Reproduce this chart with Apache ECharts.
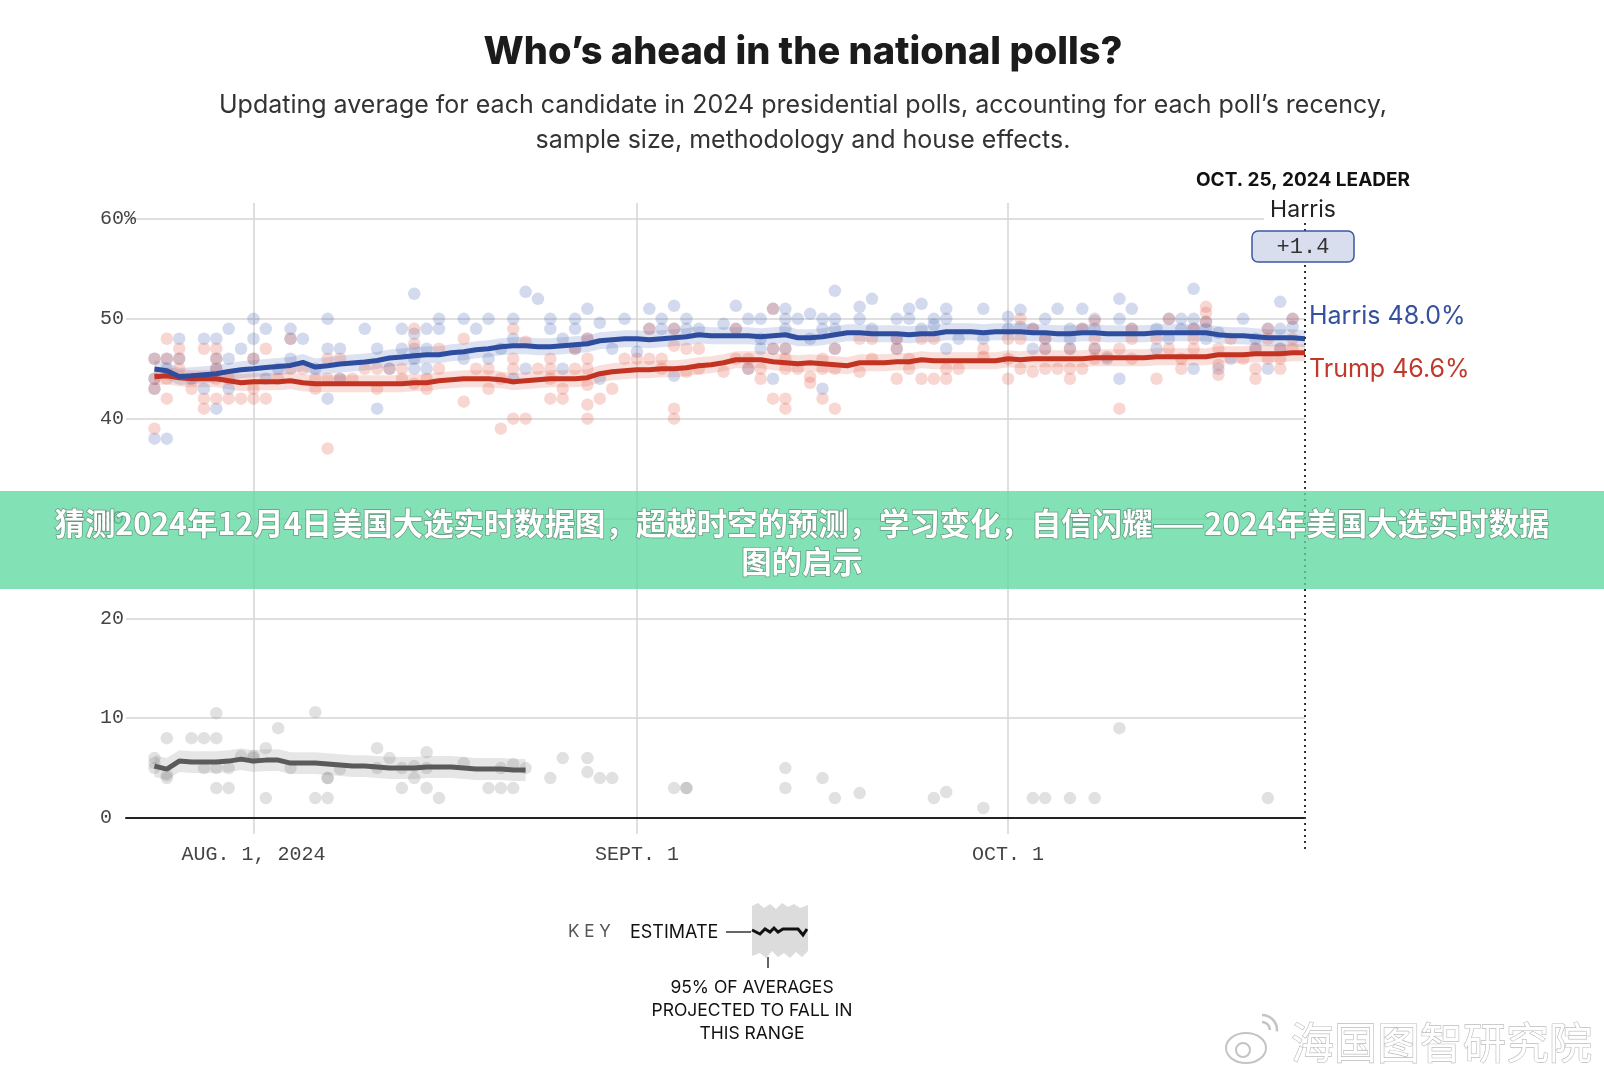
<!DOCTYPE html>
<html><head><meta charset="utf-8">
<script src="https://cdn.jsdelivr.net/npm/echarts@6/dist/echarts.min.js"></script>
<style>html,body{margin:0;padding:0;background:#fff}#c{width:1604px;height:1080px}</style>
</head><body><div id="c"></div>
<script>
// ---------- DATA ----------
const startDate = '07-24';
const leaderDate = '10-25';
const xTickDates = ['08-01', '09-01', '10-01'];
const xTickLabels = ['AUG. 1, 2024', 'SEPT. 1', 'OCT. 1'];
const yTicks = [0, 10, 20, 30, 40, 50, 60];
const yTickLabels = ['0', '10', '20', '30', '40', '50', '60%'];

// daily averages, Jul 24 .. Oct 25
const harrisAvg = [44.97,44.8,44.23,44.3,44.4,44.5,44.73,44.9,45.0,45.13,45.23,45.33,45.63,45.17,45.3,45.47,45.57,45.67,45.83,46.07,46.17,46.3,46.4,
  46.4,46.6,46.7,46.9,47.0,47.2,47.3,47.3,47.2,47.2,47.3,47.4,47.5,47.8,47.9,48.0,48.0,47.9,48.0,48.1,48.2,48.4,48.3,48.3,
  48.3,48.3,48.2,48.3,48.4,48.1,48.1,48.2,48.4,48.6,48.6,48.5,48.5,48.5,48.4,48.5,48.5,48.7,48.7,48.7,48.6,48.7,
  48.7,48.7,48.6,48.6,48.5,48.5,48.6,48.6,48.5,48.5,48.5,48.5,48.6,48.6,48.6,48.6,48.6,48.4,48.3,48.3,48.2,48.1,48.1,48.1,48.0];
const trumpAvg = [44.2,44.3,44.1,44.0,44.0,44.0,43.8,43.6,43.7,43.7,43.7,43.8,43.6,43.5,43.5,43.5,43.5,43.5,43.5,43.5,43.5,43.6,43.6,
  43.8,43.9,44.0,44.0,44.0,43.9,43.7,43.8,43.9,44.0,44.0,44.0,44.1,44.5,44.7,44.8,44.9,44.9,45.0,45.0,45.1,45.3,45.4,45.6,
  45.9,45.9,45.9,45.7,45.6,45.5,45.6,45.5,45.4,45.3,45.6,45.6,45.6,45.7,45.7,45.9,45.8,45.8,45.8,45.8,45.8,45.8,
  46.0,45.9,46.0,46.0,46.0,46.0,46.0,46.1,46.1,46.1,46.1,46.1,46.2,46.2,46.2,46.2,46.2,46.4,46.4,46.4,46.5,46.5,46.5,46.6,46.6];
const otherAvg = [5.2,4.9,5.7,5.6,5.6,5.6,5.7,5.9,5.7,5.8,5.8,5.5,5.5,5.5,5.4,5.3,5.2,5.2,5.1,5.0,5.0,5.0,5.1,5.1,5.1,5.0,4.9,4.9,4.9,4.8,4.8];

// half width of the 95% band
const harrisBand = 0.85;
const trumpBand = 0.85;
const otherBand = 1.1;

// individual polls: [date, values...]
const harrisPolls = [['07-24',46,44,43,38],['07-25',46,45,38],['07-26',48,46],['07-27',44],['07-28',48,43],['07-29',48,46,45,41],['07-30',49,46,43],['07-31',47],['08-01',50,48,46],['08-02',49,44],['08-03',45],['08-04',49,48,46],['08-05',48],['08-06',45],['08-07',50,47,42],['08-08',47,44],['08-10',49],['08-11',47,41],['08-12',45],['08-13',49,47],['08-14',52.5,48.5,47,46,45],['08-15',49,47,45],['08-16',50,49],['08-18',50,46],['08-19',49],['08-20',50,46],['08-21',47],['08-22',50,48,44],['08-23',52.7,45],['08-24',52],['08-25',50,49],['08-26',48,45],['08-27',50,49,47],['08-28',51,48],['08-29',49.6,44],['08-30',47],['08-31',50],['09-01',46.7],['09-02',51,49],['09-03',50,49],['09-04',51.3,49,44.3],['09-05',50,49],['09-06',49],['09-08',49.5],['09-09',51.3,49],['09-10',50,45],['09-11',50,48,47],['09-12',51,47,44],['09-13',51,50,49,47],['09-14',50],['09-15',50.5,48],['09-16',50,49,43],['09-17',52.8,50,49,47],['09-19',51.2,50],['09-20',52,49],['09-22',50,48,47],['09-23',51,50],['09-24',51.5,49],['09-25',50,49.4],['09-26',51,50,47],['09-27',48],['09-29',51,48],['10-01',50.2,49],['10-02',50.9,49.2],['10-03',49,47],['10-04',50,48,47],['10-05',51],['10-06',49,48,47],['10-07',51,49],['10-08',50,49,47],['10-09',46],['10-10',52,50,44],['10-11',51,49],['10-13',49,47],['10-14',50,48],['10-15',50,49],['10-16',53,50,49,45],['10-17',49.7,49,48],['10-18',48.6,45],['10-19',46],['10-20',50],['10-21',48,47],['10-22',49,45],['10-23',51.7,49,47],['10-24',50,49.2]];
const trumpPolls = [['07-24',46,44,43,39],['07-25',48,46,44,42],['07-26',47,46,45],['07-27',43],['07-28',47,42,41],['07-29',47,46,45,44,42],['07-30',44,42],['07-31',42],['08-01',46,43,42],['08-02',47,42],['08-03',44],['08-04',48,45],['08-05',45],['08-06',44,43],['08-07',46,44,37],['08-08',46,44],['08-09',44],['08-10',45],['08-11',45,43],['08-12',45],['08-13',45,44],['08-14',49,47.5,43.5],['08-15',44,43],['08-16',47,45],['08-18',48,41.7],['08-19',45],['08-20',45,43],['08-21',44,39],['08-22',49,46,45,40],['08-23',47.7,40],['08-24',45],['08-25',46,45,44,42],['08-26',43,42],['08-27',47,45],['08-28',48,46,45,43.4,41.4,40],['08-29',42],['08-30',43],['08-31',46],['09-01',46],['09-02',49,46],['09-03',46,45],['09-04',49,47.3,41,40],['09-05',47,44.7],['09-06',47,45],['09-08',44.7],['09-09',49,46],['09-10',46,45],['09-11',45,44],['09-12',51,47,42],['09-13',47,46,45,42,41],['09-14',45],['09-15',44.2,43.6],['09-16',46,45,42],['09-17',47,45,41],['09-19',48,44.7],['09-20',48,46],['09-22',48,47,44],['09-23',46,45],['09-24',48,44],['09-25',48,44],['09-26',45,44],['09-27',45],['09-29',47,46.2],['10-01',48,46,44],['10-02',50,48,45],['10-03',49,44.7],['10-04',48,47,45],['10-05',45],['10-06',47,45,44],['10-07',49,45],['10-08',49.8,48,47,46],['10-09',46.2],['10-10',47,41],['10-11',49,48,46],['10-13',48,44],['10-14',50,47],['10-15',46,45],['10-16',49,48,47],['10-17',51.2,50.6,49.7],['10-18',47,45.4,44.4],['10-19',48],['10-20',46],['10-21',47,45,44],['10-22',49,48,46],['10-23',47,46,45],['10-24',50,48,47]];
const otherPolls = [['07-24',6,5.5,5],['07-25',8,4.3,4],['07-27',8],['07-28',8,5],['07-29',10.5,8,5,3],['07-30',5,3],['07-31',6.2],['08-01',6.2,6],['08-02',7,2],['08-03',9],['08-04',5],['08-06',10.6,2],['08-07',4,4,2],['08-08',4.9],['08-11',7,5],['08-12',6],['08-13',5,3],['08-14',5.2,4],['08-15',6.6,5,3],['08-16',2],['08-18',5.5],['08-20',3],['08-21',5,3],['08-22',5.4,3],['08-23',5],['08-25',4],['08-26',6],['08-28',6,4.6],['08-29',4],['08-30',4],['09-04',3],['09-05',3,3],['09-13',5,3],['09-16',4],['09-17',2],['09-19',2.5],['09-25',2],['09-26',2.6],['09-29',1],['10-03',2],['10-04',2],['10-06',2],['10-08',2],['10-10',9],['10-22',2]];

// ---------- helpers ----------
const dayOf = s => (Date.parse('2024-' + s + 'T00:00:00Z') - Date.parse('2024-08-01T00:00:00Z')) / 864e5;
const d0 = dayOf(startDate);
const xTickDays = xTickDates.map(dayOf);
const flat = polls => polls.flatMap(([d, ...vals]) => vals.map(v => [dayOf(d), v]));
const line = avg => avg.map((v, i) => [d0 + i, v]);
const leaderDay = dayOf(leaderDate);
const lastH = harrisAvg[harrisAvg.length - 1], lastT = trumpAvg[trumpAvg.length - 1];

const TICK_FONT = '"Liberation Mono", "DejaVu Sans Mono", monospace';
const SANS = 'Inter, "Noto Sans", sans-serif';

function band(avg, m, color) {
  const up = avg.map((v, i) => [d0 + i, v + m]);
  const lo = avg.map((v, i) => [d0 + i, v - m]).reverse();
  return {
    type: 'custom', silent: true, z: 1, data: [[d0, avg[0]]],
    renderItem: (params, api) => ({
      type: 'polygon',
      shape: { points: up.concat(lo).map(p => api.coord(p)) },
      style: { fill: color }
    })
  };
}
function dots(data, color) {
  return { type: 'scatter', data: data, symbolSize: 12.5, silent: true, z: 2,
    itemStyle: { color: color, borderWidth: 0 } };
}

const chart = echarts.init(document.getElementById('c'), null, { renderer: 'canvas' });
const option = {
  animation: false,
  backgroundColor: '#fff',
  grid: { left: 126, right: 299, top: 203, bottom: 246 },
  xAxis: {
    type: 'value', min: -10.3, max: 85,
    axisLine: { onZero: true, lineStyle: { color: '#222', width: 2 } },
    axisTick: { show: false, customValues: xTickDays },
    splitLine: { show: true, lineStyle: { color: '#d4d4d4', width: 1.5 } },
    axisLabel: { customValues: xTickDays, margin: 11, color: '#444', fontFamily: TICK_FONT, fontSize: 20,
      formatter: v => xTickLabels[xTickDays.indexOf(v)] || '' }
  },
  yAxis: {
    type: 'value', min: -1.6, max: 61.6,
    axisLine: { show: false },
    axisTick: { show: false, customValues: yTicks },
    splitLine: { show: true, lineStyle: { color: '#d4d4d4', width: 1.5 } },
    axisLabel: { customValues: yTicks, align: 'left', margin: 26, color: '#444', fontFamily: TICK_FONT, fontSize: 20,
      formatter: v => yTickLabels[yTicks.indexOf(v)] || '' }
  },
  series: [
    band(harrisAvg, harrisBand, 'rgba(70,100,180,0.19)'),
    band(trumpAvg, trumpBand, 'rgba(225,95,75,0.2)'),
    band(otherAvg, otherBand, 'rgba(150,150,150,0.24)'),
    dots(flat(otherPolls), 'rgba(130,130,130,0.30)'),
    dots(flat(harrisPolls), 'rgba(60,90,175,0.28)'),
    dots(flat(trumpPolls), 'rgba(225,90,70,0.30)'),
    { type: 'line', data: line(otherAvg), symbol: 'none', silent: true, z: 3,
      lineStyle: { color: '#5a5a5a', width: 5 } },
    { type: 'line', data: line(trumpAvg), symbol: 'none', silent: true, z: 4,
      lineStyle: { color: '#c23321', width: 5 },
      endLabel: { show: true, distance: 4, offset: [0, 17], color: '#c0392b', fontFamily: SANS, fontSize: 25,
        formatter: p => 'Trump ' + p.value[1].toFixed(1) + '%' } },
    { type: 'line', data: line(harrisAvg), symbol: 'none', silent: true, z: 5,
      lineStyle: { color: '#2e4d9f', width: 5 },
      endLabel: { show: true, distance: 4, offset: [0, -22], color: '#34509e', fontFamily: SANS, fontSize: 25,
        formatter: p => 'Harris ' + p.value[1].toFixed(1) + '%' } },
    { type: 'line', data: [[leaderDay, 59.6], [leaderDay, -3.4]], symbol: 'none', silent: true, clip: false, z: 6,
      lineStyle: { color: '#333', width: 2, type: [2, 4] } }
  ]
};
chart.setOption(option);

const lx = chart.convertToPixel({ xAxisIndex: 0 }, leaderDay);
const keyWaveTop = [[752,906],[758,903],[764,908],[770,904],[776,909],[782,903],[788,907],[794,904],[800,908],[808,905]];
const keyWaveBot = [[808,951],[802,957],[796,952],[790,958],[784,953],[778,957],[772,951],[766,958],[760,953],[752,956]];
chart.setOption({
  graphic: [
    { type: 'text', x: 803, y: 53, z: 10, style: { text: 'Who’s ahead in the national polls?', font: '800 38px Inter, sans-serif', fill: '#1b1b1b', align: 'center', verticalAlign: 'middle' } },
    { type: 'text', x: 803, y: 105, z: 10, style: { text: 'Updating average for each candidate in 2024 presidential polls, accounting for each poll’s recency,', font: '25px Inter, sans-serif', fill: '#333', align: 'center', verticalAlign: 'middle' } },
    { type: 'text', x: 803, y: 140, z: 10, style: { text: 'sample size, methodology and house effects.', font: '25px Inter, sans-serif', fill: '#333', align: 'center', verticalAlign: 'middle' } },
    { type: 'text', x: lx - 2, y: 180, z: 10, style: { text: 'OCT. 25, 2024 LEADER', font: 'bold 19px Inter, sans-serif', fill: '#111', align: 'center', verticalAlign: 'middle' } },
    { type: 'text', x: lx - 2, y: 210, z: 10, style: { text: 'Harris', font: '23px Inter, sans-serif', fill: '#222', align: 'center', verticalAlign: 'middle', backgroundColor: '#fff', padding: [0, 6] } },
    { type: 'rect', z: 10, shape: { x: lx - 53, y: 231, width: 102, height: 31, r: 6 }, style: { fill: '#d9deee', stroke: '#3d57a3', lineWidth: 1.5 } },
    { type: 'text', x: lx - 2, y: 247, z: 11, style: { text: '+' + (lastH - lastT).toFixed(1), font: '22px "Liberation Mono", monospace', fill: '#333', align: 'center', verticalAlign: 'middle' } },
    // banner
    { type: 'rect', z: 20, shape: { x: 0, y: 491, width: 1604, height: 98 }, style: { fill: 'rgba(96,218,160,0.78)' } },
    { type: 'text', x: 802, y: 523, z: 21, style: { text: '猜测2024年12月4日美国大选实时数据图，超越时空的预测，学习变化，自信闪耀——2024年美国大选实时数据', font: 'bold 30.4px "Noto Sans CJK SC", sans-serif', fill: '#fff', stroke: 'rgba(60,60,60,0.45)', lineWidth: 1.5, align: 'center', verticalAlign: 'middle' } },
    { type: 'text', x: 802, y: 561, z: 21, style: { text: '图的启示', font: 'bold 30.4px "Noto Sans CJK SC", sans-serif', fill: '#fff', stroke: 'rgba(60,60,60,0.45)', lineWidth: 1.5, align: 'center', verticalAlign: 'middle' } },
    // key
    { type: 'text', x: 568, y: 932, z: 10, style: { text: 'K E Y', font: '17px Inter, sans-serif', fill: '#555', verticalAlign: 'middle' } },
    { type: 'text', x: 630, y: 933, z: 10, style: { text: 'ESTIMATE', font: '18px Inter, sans-serif', fill: '#111', verticalAlign: 'middle' } },
    { type: 'line', z: 10, shape: { x1: 726, y1: 932, x2: 751, y2: 932 }, style: { stroke: '#333', lineWidth: 1.5 } },
    { type: 'polygon', z: 10, shape: { points: keyWaveTop.concat(keyWaveBot) }, style: { fill: '#dcdcdc' } },
    { type: 'polyline', z: 11, shape: { points: [[752,930],[760,934],[765,929],[770,932],[774,928],[778,932],[783,929],[793,929],[798,929],[803,935],[807,929]] }, style: { stroke: '#111', lineWidth: 3, fill: null } },
    { type: 'line', z: 10, shape: { x1: 768, y1: 957, x2: 768, y2: 968 }, style: { stroke: '#333', lineWidth: 1.5 } },
    { type: 'text', x: 752, y: 988, z: 10, style: { text: '95% OF AVERAGES', font: '17.5px Inter, sans-serif', fill: '#111', align: 'center', verticalAlign: 'middle' } },
    { type: 'text', x: 752, y: 1011, z: 10, style: { text: 'PROJECTED TO FALL IN', font: '17.5px Inter, sans-serif', fill: '#111', align: 'center', verticalAlign: 'middle' } },
    { type: 'text', x: 752, y: 1034, z: 10, style: { text: 'THIS RANGE', font: '17.5px Inter, sans-serif', fill: '#111', align: 'center', verticalAlign: 'middle' } },
    // watermark
    { type: 'ellipse', z: 10, shape: { cx: 1246, cy: 1048, rx: 20, ry: 15 }, style: { fill: '#fff', stroke: '#c4c4c4', lineWidth: 2 } },
    { type: 'circle', z: 11, shape: { cx: 1243, cy: 1050, r: 7 }, style: { fill: '#fff', stroke: '#c4c4c4', lineWidth: 2 } },
    { type: 'arc', z: 11, shape: { cx: 1262, cy: 1030, r: 8, startAngle: -Math.PI / 2, endAngle: 0 }, style: { stroke: '#c4c4c4', lineWidth: 2.5, fill: null } },
    { type: 'arc', z: 11, shape: { cx: 1262, cy: 1030, r: 15, startAngle: -Math.PI / 2, endAngle: 0.1 }, style: { stroke: '#c4c4c4', lineWidth: 2.5, fill: null } },
    { type: 'text', x: 1291, y: 1043, z: 10, style: { text: '海国图智研究院', font: '43px "Noto Sans CJK SC", sans-serif', fill: '#fff', stroke: '#bdbdbd', lineWidth: 1.3, verticalAlign: 'middle' } }
  ]
});
</script>
</body></html>
